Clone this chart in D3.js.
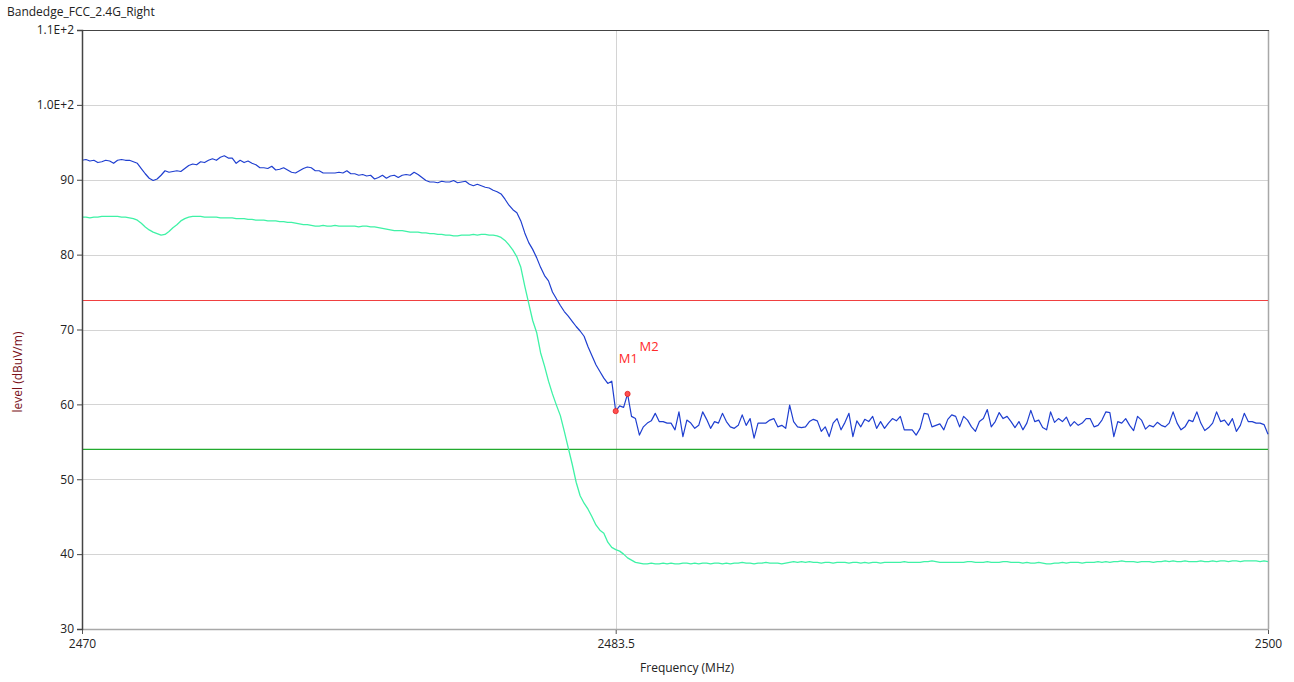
<!DOCTYPE html>
<html>
<head>
<meta charset="utf-8">
<script src="https://cdn.jsdelivr.net/npm/d3@7/dist/d3.min.js"></script>
<style>
  html, body { margin: 0; padding: 0; background: #ffffff; }
  svg { display: block; font-family: "Open Sans", "Noto Sans", sans-serif; }
</style>
</head>
<body>
<svg id="chart" width="1294" height="682"></svg>
<script>
// ---------------- DATA ----------------
const chartTitle = "Bandedge_FCC_2.4G_Right";
const xLabel = "Frequency (MHz)";
const yLabel = "level (dBuV/m)";

// sweep grid (MHz)
const freqStart = 2470;
const freqStep = 0.1;

// peak trace (blue), one value per 0.1 MHz from 2470 to 2500
const peakLevel = [
  92.6,92.7,92.5,92.6,92.3,92.4,92.6,92.5,92.2,92.6,
  92.7,92.6,92.6,92.4,92.2,91.5,90.8,90.2,89.9,90.1,
  90.6,91.2,91.0,91.1,91.2,91.1,91.5,91.9,92.1,92.0,
  92.4,92.3,92.6,92.8,92.6,93.0,93.2,92.9,92.9,92.2,
  92.6,92.3,92.5,92.2,92.0,91.6,91.6,91.5,91.8,91.3,
  91.4,91.6,91.3,91.0,90.9,91.2,91.5,91.7,91.6,91.2,
  91.2,90.9,90.9,90.9,90.9,91.0,90.9,91.2,90.8,90.8,
  90.6,90.7,90.5,90.6,90.1,90.3,90.6,90.2,90.5,90.6,
  90.3,90.6,90.7,90.6,91.0,90.7,90.3,89.9,89.7,89.7,
  89.6,89.8,89.7,89.7,89.9,89.6,89.7,89.8,89.4,89.2,
  89.4,89.2,89.0,88.9,88.6,88.4,88.1,87.4,86.6,86.0,
  85.6,84.5,82.9,81.6,80.7,79.6,78.3,77.2,76.5,75.0,
  74.1,73.2,72.4,71.8,71.1,70.4,69.8,69.1,67.7,66.5,
  65.3,64.4,63.5,62.8,63.1,59.1,59.8,59.6,61.4,58.4,
  58.1,55.9,57.0,57.5,57.8,58.8,57.7,57.7,57.5,57.5,
  56.6,59.0,55.7,57.9,57.5,56.8,57.2,59.0,58.0,56.8,
  57.7,57.5,58.8,57.7,57.0,56.8,57.2,58.6,57.2,58.1,
  55.5,57.5,57.5,57.5,57.9,58.1,57.0,57.2,56.8,59.9,
  57.7,57.0,56.9,57.0,57.7,58.0,57.8,56.4,57.0,55.7,
  57.5,58.1,56.6,57.6,58.8,55.7,57.8,57.0,58.0,57.7,
  58.4,56.8,57.7,56.8,57.5,58.1,57.8,58.4,56.6,56.6,
  56.6,55.9,56.8,58.8,58.7,57.0,57.2,57.4,56.6,58.0,
  58.6,58.4,57.0,58.4,57.9,57.0,56.4,57.7,58.1,59.3,
  57.0,57.7,58.9,58.1,58.4,57.7,56.9,57.7,56.6,57.5,
  59.2,57.7,57.9,56.9,56.6,59.0,57.6,58.1,57.7,58.3,
  57.1,57.7,57.2,57.5,58.1,58.1,57.0,57.2,57.9,59.0,
  58.9,55.7,57.7,57.5,58.1,57.2,56.5,58.4,57.9,56.7,
  57.2,57.0,57.6,57.2,57.0,57.5,59.0,57.5,56.6,57.0,
  57.9,57.7,59.0,57.5,56.5,56.9,57.5,59.0,57.7,57.9,
  57.2,58.1,56.4,57.2,58.8,57.7,57.7,57.5,57.5,57.3,
  56.0
];

// average trace (green), one value per 0.1 MHz from 2470 to 2500
const avgLevel = [
  85.0,85.0,84.9,85.0,85.0,85.1,85.1,85.1,85.1,85.1,
  85.0,85.0,84.9,84.8,84.6,84.2,83.7,83.3,83.0,82.8,
  82.6,82.7,83.1,83.6,84.0,84.5,84.8,85.0,85.1,85.1,
  85.1,85.0,85.0,85.0,85.0,84.9,84.9,84.9,84.9,84.8,
  84.8,84.8,84.7,84.7,84.6,84.6,84.6,84.5,84.5,84.5,
  84.4,84.4,84.3,84.3,84.2,84.1,84.0,84.0,83.9,83.8,
  83.8,83.9,83.8,83.8,83.9,83.8,83.8,83.8,83.8,83.8,
  83.7,83.8,83.8,83.7,83.7,83.6,83.5,83.4,83.3,83.2,
  83.2,83.2,83.1,83.0,83.0,83.0,82.9,82.9,82.8,82.8,
  82.7,82.7,82.6,82.6,82.5,82.5,82.6,82.6,82.6,82.7,
  82.6,82.7,82.7,82.6,82.6,82.5,82.3,81.9,81.3,80.6,
  79.7,78.3,75.8,73.5,71.2,69.6,66.9,65.1,63.1,61.4,
  59.9,58.5,56.4,54.2,52.0,49.6,47.8,46.8,46.0,45.0,
  43.9,43.2,42.8,41.6,40.9,40.6,40.4,40.0,39.5,39.2,
  38.9,38.8,38.7,38.7,38.8,38.7,38.7,38.8,38.7,38.8,
  38.7,38.7,38.8,38.8,38.7,38.8,38.7,38.8,38.8,38.7,
  38.8,38.8,38.7,38.8,38.7,38.8,38.8,38.9,38.8,38.8,
  38.7,38.8,38.8,38.9,38.8,38.8,38.8,38.7,38.8,38.9,
  39.0,38.9,39.0,38.9,39.0,38.9,38.9,38.8,38.9,38.9,
  38.8,38.9,38.9,38.9,38.8,38.9,38.9,38.8,38.9,38.8,
  38.9,38.9,38.8,38.9,38.9,38.9,38.9,38.9,39.0,38.9,
  38.9,38.9,38.9,39.0,39.0,39.1,39.0,38.9,38.9,38.9,
  38.9,38.9,38.9,38.9,39.0,39.0,38.9,38.9,38.9,39.0,
  38.9,38.9,38.9,39.0,39.0,38.9,38.9,38.9,38.8,38.9,
  38.8,38.8,38.9,38.8,38.7,38.7,38.8,38.8,38.9,38.8,
  38.9,38.9,38.9,38.8,38.9,38.9,38.9,39.0,38.9,39.0,
  38.9,39.0,39.0,39.1,39.0,39.0,39.0,38.9,39.0,39.0,
  39.0,38.9,39.0,39.0,39.1,39.0,39.1,39.0,39.0,39.1,
  39.0,39.0,39.0,39.1,39.0,39.0,39.1,39.0,39.1,39.1,
  39.0,39.1,39.1,39.0,39.1,39.1,39.1,39.1,39.0,39.1,
  39.0
];

// limit lines (dBuV/m)
const peakLimit = 74;
const avgLimit = 54;

// markers
const markerNames = ["M1", "M2"];
const markerFreqs = [2483.5, 2483.8];
const markerLevels = [59.1, 61.4];

// axes
const xDomain = [2470, 2500];
const yDomain = [30, 110];
const xTickValues = [2470, 2483.5, 2500];
const xTickLabels = ["2470", "2483.5", "2500"];
const yTickValues = [30, 40, 50, 60, 70, 80, 90, 100, 110];
const yTickLabels = ["30", "40", "50", "60", "70", "80", "90", "1.0E+2", "1.1E+2"];

// ---------------- DRAW ----------------
const svg = d3.select("#chart");
const plot = { left: 82, right: 1268, top: 30, bottom: 629 };

const x = d3.scaleLinear().domain(xDomain).range([plot.left, plot.right]);
const y = d3.scaleLinear().domain(yDomain).range([plot.bottom, plot.top]);
const crisp = v => Math.round(v) + 0.5;

const freqs = peakLevel.map((_, i) => freqStart + i * freqStep);
const peakData = freqs.map((f, i) => ({ f, v: peakLevel[i] }));
const avgData = freqs.map((f, i) => ({ f, v: avgLevel[i] }));

// title
svg.append("text")
  .attr("x", 7).attr("y", 16)
  .attr("font-size", 12).attr("fill", "#222")
  .text(chartTitle);

// horizontal gridlines
svg.append("g")
  .selectAll("line")
  .data(yTickValues.filter(v => v !== yDomain[0] && v !== yDomain[1]))
  .join("line")
  .attr("x1", plot.left).attr("x2", plot.right)
  .attr("y1", d => crisp(y(d))).attr("y2", d => crisp(y(d)))
  .attr("stroke", "#d4d4d4").attr("stroke-width", 1);

// vertical gridlines
svg.append("g")
  .selectAll("line")
  .data(xTickValues.filter(v => v !== xDomain[0] && v !== xDomain[1]))
  .join("line")
  .attr("x1", d => crisp(x(d))).attr("x2", d => crisp(x(d)))
  .attr("y1", plot.top).attr("y2", plot.bottom)
  .attr("stroke", "#d4d4d4").attr("stroke-width", 1);

// frame: right & bottom light, top & left dark
svg.append("line")
  .attr("x1", plot.right + 0.5).attr("x2", plot.right + 0.5)
  .attr("y1", plot.top).attr("y2", plot.bottom)
  .attr("stroke", "#a8a8a8").attr("stroke-width", 1.5);
svg.append("line")
  .attr("x1", plot.left).attr("x2", plot.right + 1)
  .attr("y1", plot.bottom + 0.5).attr("y2", plot.bottom + 0.5)
  .attr("stroke", "#a8a8a8").attr("stroke-width", 1.5);
svg.append("line")
  .attr("x1", plot.left).attr("x2", plot.right + 1)
  .attr("y1", plot.top + 0.5).attr("y2", plot.top + 0.5)
  .attr("stroke", "#444").attr("stroke-width", 1.2);

// limit lines
svg.append("line")
  .attr("x1", plot.left).attr("x2", plot.right)
  .attr("y1", crisp(y(peakLimit))).attr("y2", crisp(y(peakLimit)))
  .attr("stroke", "#f04040").attr("stroke-width", 1.2);
svg.append("line")
  .attr("x1", plot.left).attr("x2", plot.right)
  .attr("y1", y(avgLimit)).attr("y2", y(avgLimit))
  .attr("stroke", "#22aa2e").attr("stroke-width", 1.3);

// traces
const line = d3.line().x(d => x(d.f)).y(d => y(d.v));
svg.append("path").datum(avgData)
  .attr("d", line).attr("fill", "none")
  .attr("stroke", "#3ff2a6").attr("stroke-width", 1.3).attr("stroke-linejoin", "round");
svg.append("path").datum(peakData)
  .attr("d", line).attr("fill", "none")
  .attr("stroke", "#1f3fd0").attr("stroke-width", 1.2).attr("stroke-linejoin", "round");

// y axis
const yAxis = d3.axisLeft(y)
  .tickValues(yTickValues)
  .tickFormat((d, i) => yTickLabels[i])
  .tickSize(5).tickPadding(3);
const gy = svg.append("g").attr("transform", `translate(${plot.left},0)`).call(yAxis);
gy.select(".domain").attr("stroke", "#444").attr("stroke-width", 1.5);
gy.selectAll(".tick line").attr("stroke", "#444");
gy.selectAll(".tick text").attr("font-size", 12).attr("fill", "#222")
  .attr("font-family", "'Open Sans', 'Noto Sans', sans-serif");

// x axis
const xAxis = d3.axisBottom(x)
  .tickValues(xTickValues)
  .tickFormat((d, i) => xTickLabels[i])
  .tickSize(4).tickPadding(5);
const gx = svg.append("g").attr("transform", `translate(0,${plot.bottom + 1})`).call(xAxis);
gx.select(".domain").remove();
gx.selectAll(".tick line").attr("stroke", "#555");
gx.selectAll(".tick text").attr("font-size", 12).attr("fill", "#222")
  .attr("font-family", "'Open Sans', 'Noto Sans', sans-serif");

// axis labels
svg.append("text")
  .attr("x", 687).attr("y", 672)
  .attr("text-anchor", "middle")
  .attr("font-size", 12).attr("fill", "#222")
  .text(xLabel);
svg.append("text")
  .attr("transform", `translate(22,${372}) rotate(-90)`)
  .attr("text-anchor", "middle")
  .attr("font-size", 12).attr("fill", "#7a1018")
  .text(yLabel);

// markers
const markers = markerNames.map((n, i) => ({ n, f: markerFreqs[i], v: markerLevels[i] }));
const labelOffsets = [[3, -48], [12, -43]];
const mg = svg.append("g");
mg.selectAll("circle").data(markers).join("circle")
  .attr("cx", d => x(d.f)).attr("cy", d => y(d.v)).attr("r", 2.6)
  .attr("fill", "#ff5050").attr("stroke", "#e02020").attr("stroke-width", 0.8);
mg.selectAll("text").data(markers).join("text")
  .attr("x", (d, i) => x(d.f) + labelOffsets[i][0])
  .attr("y", (d, i) => y(d.v) + labelOffsets[i][1])
  .attr("font-size", 13).attr("fill", "#ff2a2a")
  .text(d => d.n);
</script>
</body>
</html>
